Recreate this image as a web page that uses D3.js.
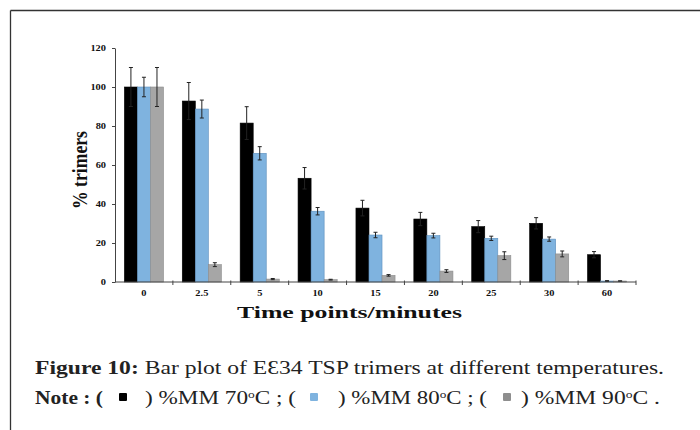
<!DOCTYPE html>
<html>
<head>
<meta charset="utf-8">
<script src="https://cdn.jsdelivr.net/npm/d3@7"></script>
<style>
  html, body { margin: 0; padding: 0; background: #fff; }
  svg { display: block; }
</style>
</head>
<body>
<script>
// ---- data ----
const categories = ["0", "2.5", "5", "10", "15", "20", "25", "30", "60"];
const seriesNames = ["%MM 70ºC", "%MM 80ºC", "%MM 90ºC"];
const mm70 = [100, 92.8, 81.5, 53.2, 37.9, 32.3, 28.4, 30.1, 14.0];
const mm70Err = [10, 9.5, 8.4, 5.5, 4.0, 3.4, 3.1, 2.9, 1.6];
const mm80 = [100, 88.7, 66.0, 36.3, 24.1, 23.8, 22.4, 22.0, 0.5];
const mm80Err = [5, 4.6, 3.4, 1.9, 1.4, 1.2, 1.1, 1.1, 0.2];
const mm90 = [100, 8.9, 1.5, 1.2, 3.4, 5.6, 13.5, 14.4, 0.5];
const mm90Err = [10, 1.0, 0.3, 0.2, 0.4, 0.7, 2.0, 1.5, 0.1];
const yTicks = [0, 20, 40, 60, 80, 100, 120];
const colors = ["#000000", "#7fb3df", "#a6a6a6"];
const strokes = ["#000000", "#5d8fbd", "#8c8c8c"];

const W = 700, H = 430;
const svg = d3.select("body").append("svg").attr("width", W).attr("height", H);

// frame
svg.append("line").attr("x1", 10.5).attr("x2", W).attr("y1", 10.5).attr("y2", 10.5)
  .attr("stroke", "#333").attr("stroke-width", 1.3);
svg.append("line").attr("x1", 10.5).attr("x2", 10.5).attr("y1", 10.5).attr("y2", H)
  .attr("stroke", "#333").attr("stroke-width", 1.3);

const pLeft = 115, pRight = 636, pTop = 48, pBottom = 282;
const x0 = d3.scaleBand().domain(categories).range([pLeft, pRight]).paddingInner(0).paddingOuter(0);
const x1 = d3.scaleBand().domain([0, 1, 2]).range([0, x0.bandwidth()]).paddingInner(0).paddingOuter(0.72);
const y = d3.scaleLinear().domain([0, 120]).range([pBottom, pTop]);

const series = [
  { vals: mm70, errs: mm70Err },
  { vals: mm80, errs: mm80Err },
  { vals: mm90, errs: mm90Err }
];

const g = svg.append("g");
series.forEach((s, si) => {
  const data = categories.map((c, i) => ({ c, v: s.vals[i], e: s.errs[i] }));
  g.selectAll(null).data(data).enter().append("rect")
    .attr("x", d => x0(d.c) + x1(si))
    .attr("width", x1.bandwidth())
    .attr("y", d => y(d.v))
    .attr("height", d => y(0) - y(d.v))
    .attr("fill", colors[si])
    .attr("stroke", strokes[si])
    .attr("stroke-width", 0.6);
  // error bars
  const eb = g.selectAll(null).data(data).enter().append("g")
    .attr("transform", d => `translate(${x0(d.c) + x1(si) + x1.bandwidth() / 2},0)`);
  eb.append("line").attr("x1", 0).attr("x2", 0)
    .attr("y1", d => y(d.v + d.e)).attr("y2", d => y(Math.max(0, d.v - d.e)))
    .attr("stroke", "#222").attr("stroke-width", 1);
  eb.append("line").attr("x1", -2).attr("x2", 2)
    .attr("y1", d => y(d.v + d.e)).attr("y2", d => y(d.v + d.e))
    .attr("stroke", "#222").attr("stroke-width", 1);
  eb.append("line").attr("x1", -2).attr("x2", 2)
    .attr("y1", d => y(Math.max(0, d.v - d.e))).attr("y2", d => y(Math.max(0, d.v - d.e)))
    .attr("stroke", "#222").attr("stroke-width", 1);
});

// y axis
const yAxis = svg.append("g").attr("transform", `translate(${pLeft},0)`)
  .call(d3.axisLeft(y).tickValues(yTicks).tickSize(3).tickSizeOuter(0).tickPadding(6));
yAxis.select(".domain").attr("stroke", "#444");
yAxis.selectAll(".tick line").attr("stroke", "#444");
yAxis.selectAll("text")
  .attr("font-family", "'Liberation Serif', serif").attr("font-weight", "bold")
  .attr("font-size", 8).attr("fill", "#111")
  .attr("x", -9 / 1.3)
  .attr("transform", "scale(1.3,1)");

// x axis with ticks at boundaries
const boundaries = categories.map(c => x0(c)).concat([x0.range()[1]]);
const xg = svg.append("g").attr("transform", `translate(0,${pBottom})`);
xg.append("line").attr("x1", pLeft).attr("x2", pRight).attr("y1", 0).attr("y2", 0).attr("stroke", "#444");
xg.selectAll(null).data(boundaries.slice(1)).enter().append("line")
  .attr("x1", d => d).attr("x2", d => d).attr("y1", -1.5).attr("y2", 3).attr("stroke", "#444");
xg.selectAll(null).data(categories).enter().append("text")
  .attr("transform", d => `translate(${x0(d) + x0.bandwidth() / 2},14) scale(1.3,1)`)
  .attr("text-anchor", "middle")
  .attr("font-family", "'Liberation Serif', serif").attr("font-weight", "bold")
  .attr("font-size", 8).attr("fill", "#111")
  .text(d => d);

// axis titles
svg.append("text")
  .attr("transform", `translate(87,170) rotate(-90)`)
  .attr("text-anchor", "middle")
  .attr("font-family", "'Liberation Serif', serif").attr("font-weight", "bold")
  .attr("font-size", 21).attr("fill", "#111")
  .attr("textLength", 78).attr("lengthAdjust", "spacingAndGlyphs")
  .text("% trimers");
svg.append("text")
  .attr("x", 237).attr("y", 318)
  .attr("textLength", 225).attr("lengthAdjust", "spacingAndGlyphs")
  .attr("font-family", "'Liberation Serif', serif").attr("font-weight", "bold")
  .attr("font-size", 17).attr("fill", "#111")
  .text("Time points/minutes");

// caption
const capFont = "'Liberation Serif', serif";
const l1 = svg.append("text").attr("x", 35).attr("y", 374)
  .attr("font-family", capFont).attr("font-size", 19).attr("fill", "#222")
  .attr("textLength", 629).attr("lengthAdjust", "spacingAndGlyphs");
l1.append("tspan").attr("font-weight", "bold").text("Figure 10:");
l1.append("tspan").text(" Bar plot of EƐ34 TSP trimers at different temperatures.");

const y2 = 404;
const segs = [
  { x: 35, w: 68, parts: [["Note : (", "b"]] },
  { x: 145, w: 151, parts: [[") %MM 70", ""], ["o", "sup"], ["C ; (", ""]] },
  { x: 338, w: 149, parts: [[") %MM 80", ""], ["o", "sup"], ["C ; (", ""]] },
  { x: 521, w: 139, parts: [[") %MM 90", ""], ["o", "sup"], ["C .", ""]] }
];
segs.forEach(s => {
  const t = svg.append("text").attr("x", s.x).attr("y", y2)
    .attr("font-family", capFont).attr("font-size", 19).attr("fill", "#222")
    .attr("textLength", s.w).attr("lengthAdjust", "spacingAndGlyphs");
  s.parts.forEach(p => {
    const ts = t.append("tspan").text(p[0]);
    if (p[1] === "b") ts.attr("font-weight", "bold");
    if (p[1] === "sup") ts.attr("font-size", 11).attr("baseline-shift", "6");
  });
});
const sqCenters = [123, 314, 507];
svg.selectAll(null).data(sqCenters).enter().append("rect")
  .attr("x", d => d - 4).attr("y", y2 - 11).attr("width", 8).attr("height", 8)
  .attr("fill", (d, i) => colors[i] === "#a6a6a6" ? "#8e8e8e" : colors[i])
  .attr("rx", 1);
</script>
</body>
</html>
